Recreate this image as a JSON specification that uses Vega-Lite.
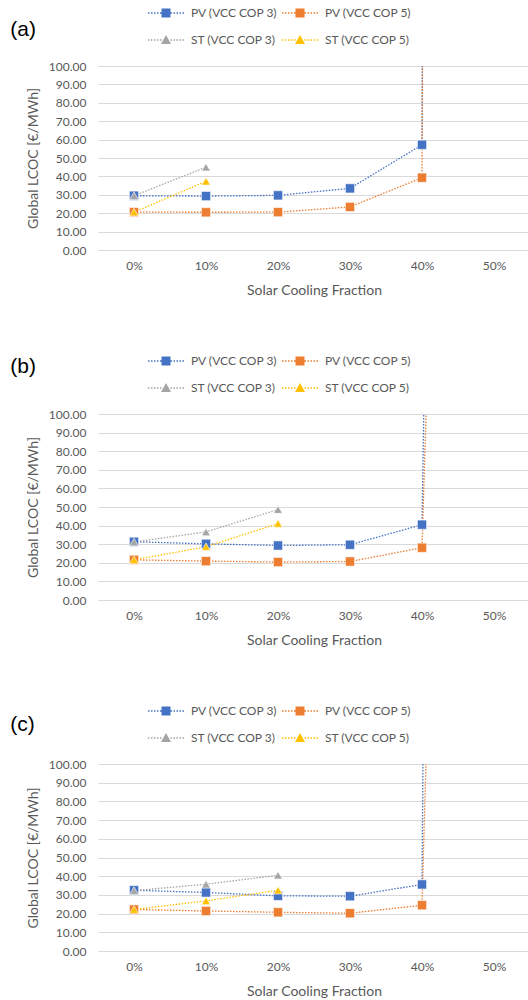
{
  "$schema": "https://vega.github.io/schema/vega-lite/v6.json",
  "padding": {"left": 10, "top": 3, "right": 0, "bottom": 0},
  "background": "white",
  "data": {"values": [
    {"panel": "a", "series": "PV (VCC COP 3)", "frac": "0%", "lcoc": 29.5},
    {"panel": "a", "series": "PV (VCC COP 3)", "frac": "10%", "lcoc": 29.3},
    {"panel": "a", "series": "PV (VCC COP 3)", "frac": "20%", "lcoc": 29.7},
    {"panel": "a", "series": "PV (VCC COP 3)", "frac": "30%", "lcoc": 33.5},
    {"panel": "a", "series": "PV (VCC COP 3)", "frac": "40%", "lcoc": 57.2},
    {"panel": "a", "series": "PV (VCC COP 3)", "frac": "50%", "lcoc": 10000},
    {"panel": "a", "series": "PV (VCC COP 5)", "frac": "0%", "lcoc": 20.6},
    {"panel": "a", "series": "PV (VCC COP 5)", "frac": "10%", "lcoc": 20.5},
    {"panel": "a", "series": "PV (VCC COP 5)", "frac": "20%", "lcoc": 20.6},
    {"panel": "a", "series": "PV (VCC COP 5)", "frac": "30%", "lcoc": 23.4},
    {"panel": "a", "series": "PV (VCC COP 5)", "frac": "40%", "lcoc": 39.3},
    {"panel": "a", "series": "PV (VCC COP 5)", "frac": "50%", "lcoc": 10000},
    {"panel": "a", "series": "ST (VCC COP 3)", "frac": "0%", "lcoc": 29.5},
    {"panel": "a", "series": "ST (VCC COP 3)", "frac": "10%", "lcoc": 45.0},
    {"panel": "a", "series": "ST (VCC COP 5)", "frac": "0%", "lcoc": 20.6},
    {"panel": "a", "series": "ST (VCC COP 5)", "frac": "10%", "lcoc": 37.3},

    {"panel": "b", "series": "PV (VCC COP 3)", "frac": "0%", "lcoc": 31.3},
    {"panel": "b", "series": "PV (VCC COP 3)", "frac": "10%", "lcoc": 30.2},
    {"panel": "b", "series": "PV (VCC COP 3)", "frac": "20%", "lcoc": 29.3},
    {"panel": "b", "series": "PV (VCC COP 3)", "frac": "30%", "lcoc": 29.7},
    {"panel": "b", "series": "PV (VCC COP 3)", "frac": "40%", "lcoc": 40.5},
    {"panel": "b", "series": "PV (VCC COP 3)", "frac": "50%", "lcoc": 2500},
    {"panel": "b", "series": "PV (VCC COP 5)", "frac": "0%", "lcoc": 21.6},
    {"panel": "b", "series": "PV (VCC COP 5)", "frac": "10%", "lcoc": 20.9},
    {"panel": "b", "series": "PV (VCC COP 5)", "frac": "20%", "lcoc": 20.4},
    {"panel": "b", "series": "PV (VCC COP 5)", "frac": "30%", "lcoc": 20.7},
    {"panel": "b", "series": "PV (VCC COP 5)", "frac": "40%", "lcoc": 28.1},
    {"panel": "b", "series": "PV (VCC COP 5)", "frac": "50%", "lcoc": 1300},
    {"panel": "b", "series": "ST (VCC COP 3)", "frac": "0%", "lcoc": 31.2},
    {"panel": "b", "series": "ST (VCC COP 3)", "frac": "10%", "lcoc": 36.6},
    {"panel": "b", "series": "ST (VCC COP 3)", "frac": "20%", "lcoc": 48.6},
    {"panel": "b", "series": "ST (VCC COP 5)", "frac": "0%", "lcoc": 21.6},
    {"panel": "b", "series": "ST (VCC COP 5)", "frac": "10%", "lcoc": 28.6},
    {"panel": "b", "series": "ST (VCC COP 5)", "frac": "20%", "lcoc": 41.1},

    {"panel": "c", "series": "PV (VCC COP 3)", "frac": "0%", "lcoc": 32.5},
    {"panel": "c", "series": "PV (VCC COP 3)", "frac": "10%", "lcoc": 31.3},
    {"panel": "c", "series": "PV (VCC COP 3)", "frac": "20%", "lcoc": 29.5},
    {"panel": "c", "series": "PV (VCC COP 3)", "frac": "30%", "lcoc": 29.3},
    {"panel": "c", "series": "PV (VCC COP 3)", "frac": "40%", "lcoc": 35.6},
    {"panel": "c", "series": "PV (VCC COP 3)", "frac": "50%", "lcoc": 5000},
    {"panel": "c", "series": "PV (VCC COP 5)", "frac": "0%", "lcoc": 22.2},
    {"panel": "c", "series": "PV (VCC COP 5)", "frac": "10%", "lcoc": 21.4},
    {"panel": "c", "series": "PV (VCC COP 5)", "frac": "20%", "lcoc": 20.7},
    {"panel": "c", "series": "PV (VCC COP 5)", "frac": "30%", "lcoc": 20.2},
    {"panel": "c", "series": "PV (VCC COP 5)", "frac": "40%", "lcoc": 24.5},
    {"panel": "c", "series": "PV (VCC COP 5)", "frac": "50%", "lcoc": 1400},
    {"panel": "c", "series": "ST (VCC COP 3)", "frac": "0%", "lcoc": 32.3},
    {"panel": "c", "series": "ST (VCC COP 3)", "frac": "10%", "lcoc": 35.7},
    {"panel": "c", "series": "ST (VCC COP 3)", "frac": "20%", "lcoc": 40.5},
    {"panel": "c", "series": "ST (VCC COP 5)", "frac": "0%", "lcoc": 22.2},
    {"panel": "c", "series": "ST (VCC COP 5)", "frac": "10%", "lcoc": 26.8},
    {"panel": "c", "series": "ST (VCC COP 5)", "frac": "20%", "lcoc": 32.5}
  ]},
  "spacing": 54,
  "resolve": {"scale": {"color": "independent"}, "legend": {"color": "independent"}},
  "vconcat": [
    {
      "title": {"text": "(a)", "dy": 41},
      "width": 432, "height": 184,
      "transform": [{"filter": "datum.panel == 'a'"}],
      "encoding": {
        "x": {"field": "frac", "type": "ordinal", "title": "Solar Cooling Fraction", "scale": {"domain": ["0%", "10%", "20%", "30%", "40%", "50%"]}},
        "y": {"field": "lcoc", "type": "quantitative", "title": "Global LCOC [€/MWh]", "scale": {"domain": [0, 100]}, "axis": {"values": [0, 10, 20, 30, 40, 50, 60, 70, 80, 90, 100], "labelOverlap": false, "format": ".2f"}},
        "color": {"field": "series", "type": "nominal", "scale": {"domain": ["PV (VCC COP 3)", "PV (VCC COP 5)", "ST (VCC COP 3)", "ST (VCC COP 5)"], "range": ["#4472C4", "#ED7D31", "#A5A5A5", "#FFC000"]},
          "legend": {"orient": "none", "legendX": 58, "legendY": -63, "columns": 2, "direction": "horizontal", "title": null, "symbolSize": 400, "symbolStrokeWidth": 0, "labelFont": "Lato", "labelFontSize": 12, "labelColor": "#595959", "labelOffset": 15, "columnPadding": 4, "rowPadding": 11,
            "encode": {"symbols": {"update": {
              "shape": {"signal": "indexof(datum.value, 'PV') == 0 ? 'M-1.8,-0.07H-1.65V0.07H-1.8Z M-1.5,-0.07H-1.35V0.07H-1.5Z M-1.2,-0.07H-1.05V0.07H-1.2Z M-0.9,-0.07H-0.75V0.07H-0.9Z M-0.6,-0.07H-0.45V0.07H-0.6Z M0.45,-0.07H0.6V0.07H0.45Z M0.75,-0.07H0.9V0.07H0.75Z M1.05,-0.07H1.2V0.07H1.05Z M1.35,-0.07H1.5V0.07H1.35Z M1.65,-0.07H1.8V0.07H1.65Z M-0.45,-0.45H0.45V0.45H-0.45Z' : 'M-1.8,-0.07H-1.65V0.07H-1.8Z M-1.5,-0.07H-1.35V0.07H-1.5Z M-1.2,-0.07H-1.05V0.07H-1.2Z M-0.9,-0.07H-0.75V0.07H-0.9Z M-0.6,-0.07H-0.45V0.07H-0.6Z M0.45,-0.07H0.6V0.07H0.45Z M0.75,-0.07H0.9V0.07H0.75Z M1.05,-0.07H1.2V0.07H1.05Z M1.35,-0.07H1.5V0.07H1.35Z M1.65,-0.07H1.8V0.07H1.65Z M0,-0.5L0.5,0.4H-0.5Z'"},
              "fill": {"signal": "datum.value == 'PV (VCC COP 3)' ? '#4472C4' : datum.value == 'PV (VCC COP 5)' ? '#ED7D31' : datum.value == 'ST (VCC COP 3)' ? '#A5A5A5' : '#FFC000'"},
              "fillOpacity": {"value": 1}, "opacity": {"value": 1}, "strokeWidth": {"value": 0}}}}}}
      },
      "layer": [
        {"mark": {"type": "line", "clip": true, "strokeDash": [1.5, 1.5], "strokeWidth": 1.3}},
        {"transform": [{"filter": "indexof(datum.series, 'PV') == 0"}], "mark": {"type": "point", "shape": "square", "filled": true, "size": 85, "opacity": 1, "clip": true, "stroke": "white", "strokeOpacity": 0.6, "strokeWidth": 1}},
        {"transform": [{"filter": "indexof(datum.series, 'ST') == 0"}], "mark": {"type": "point", "shape": "triangle-up", "filled": true, "size": 75, "opacity": 1, "clip": true, "stroke": "white", "strokeOpacity": 0.6, "strokeWidth": 1}}
      ]
    },
    {
      "title": {"text": "(b)", "dy": 30},
      "width": 432, "height": 186,
      "transform": [{"filter": "datum.panel == 'b'"}],
      "encoding": {
        "x": {"field": "frac", "type": "ordinal", "title": "Solar Cooling Fraction", "scale": {"domain": ["0%", "10%", "20%", "30%", "40%", "50%"]}},
        "y": {"field": "lcoc", "type": "quantitative", "title": "Global LCOC [€/MWh]", "scale": {"domain": [0, 100]}, "axis": {"values": [0, 10, 20, 30, 40, 50, 60, 70, 80, 90, 100], "labelOverlap": false, "format": ".2f"}},
        "color": {"field": "series", "type": "nominal", "scale": {"domain": ["PV (VCC COP 3)", "PV (VCC COP 5)", "ST (VCC COP 3)", "ST (VCC COP 5)"], "range": ["#4472C4", "#ED7D31", "#A5A5A5", "#FFC000"]},
          "legend": {"orient": "none", "legendX": 58, "legendY": -63, "columns": 2, "direction": "horizontal", "title": null, "symbolSize": 400, "symbolStrokeWidth": 0, "labelFont": "Lato", "labelFontSize": 12, "labelColor": "#595959", "labelOffset": 15, "columnPadding": 4, "rowPadding": 11,
            "encode": {"symbols": {"update": {
              "shape": {"signal": "indexof(datum.value, 'PV') == 0 ? 'M-1.8,-0.07H-1.65V0.07H-1.8Z M-1.5,-0.07H-1.35V0.07H-1.5Z M-1.2,-0.07H-1.05V0.07H-1.2Z M-0.9,-0.07H-0.75V0.07H-0.9Z M-0.6,-0.07H-0.45V0.07H-0.6Z M0.45,-0.07H0.6V0.07H0.45Z M0.75,-0.07H0.9V0.07H0.75Z M1.05,-0.07H1.2V0.07H1.05Z M1.35,-0.07H1.5V0.07H1.35Z M1.65,-0.07H1.8V0.07H1.65Z M-0.45,-0.45H0.45V0.45H-0.45Z' : 'M-1.8,-0.07H-1.65V0.07H-1.8Z M-1.5,-0.07H-1.35V0.07H-1.5Z M-1.2,-0.07H-1.05V0.07H-1.2Z M-0.9,-0.07H-0.75V0.07H-0.9Z M-0.6,-0.07H-0.45V0.07H-0.6Z M0.45,-0.07H0.6V0.07H0.45Z M0.75,-0.07H0.9V0.07H0.75Z M1.05,-0.07H1.2V0.07H1.05Z M1.35,-0.07H1.5V0.07H1.35Z M1.65,-0.07H1.8V0.07H1.65Z M0,-0.5L0.5,0.4H-0.5Z'"},
              "fill": {"signal": "datum.value == 'PV (VCC COP 3)' ? '#4472C4' : datum.value == 'PV (VCC COP 5)' ? '#ED7D31' : datum.value == 'ST (VCC COP 3)' ? '#A5A5A5' : '#FFC000'"},
              "fillOpacity": {"value": 1}, "opacity": {"value": 1}, "strokeWidth": {"value": 0}}}}}}
      },
      "layer": [
        {"mark": {"type": "line", "clip": true, "strokeDash": [1.5, 1.5], "strokeWidth": 1.3}},
        {"transform": [{"filter": "indexof(datum.series, 'PV') == 0"}], "mark": {"type": "point", "shape": "square", "filled": true, "size": 85, "opacity": 1, "clip": true, "stroke": "white", "strokeOpacity": 0.6, "strokeWidth": 1}},
        {"transform": [{"filter": "indexof(datum.series, 'ST') == 0"}], "mark": {"type": "point", "shape": "triangle-up", "filled": true, "size": 75, "opacity": 1, "clip": true, "stroke": "white", "strokeOpacity": 0.6, "strokeWidth": 1}}
      ]
    },
    {
      "title": {"text": "(c)", "dy": 38},
      "width": 432, "height": 187,
      "transform": [{"filter": "datum.panel == 'c'"}],
      "encoding": {
        "x": {"field": "frac", "type": "ordinal", "title": "Solar Cooling Fraction", "scale": {"domain": ["0%", "10%", "20%", "30%", "40%", "50%"]}},
        "y": {"field": "lcoc", "type": "quantitative", "title": "Global LCOC [€/MWh]", "scale": {"domain": [0, 100]}, "axis": {"values": [0, 10, 20, 30, 40, 50, 60, 70, 80, 90, 100], "labelOverlap": false, "format": ".2f"}},
        "color": {"field": "series", "type": "nominal", "scale": {"domain": ["PV (VCC COP 3)", "PV (VCC COP 5)", "ST (VCC COP 3)", "ST (VCC COP 5)"], "range": ["#4472C4", "#ED7D31", "#A5A5A5", "#FFC000"]},
          "legend": {"orient": "none", "legendX": 58, "legendY": -63, "columns": 2, "direction": "horizontal", "title": null, "symbolSize": 400, "symbolStrokeWidth": 0, "labelFont": "Lato", "labelFontSize": 12, "labelColor": "#595959", "labelOffset": 15, "columnPadding": 4, "rowPadding": 11,
            "encode": {"symbols": {"update": {
              "shape": {"signal": "indexof(datum.value, 'PV') == 0 ? 'M-1.8,-0.07H-1.65V0.07H-1.8Z M-1.5,-0.07H-1.35V0.07H-1.5Z M-1.2,-0.07H-1.05V0.07H-1.2Z M-0.9,-0.07H-0.75V0.07H-0.9Z M-0.6,-0.07H-0.45V0.07H-0.6Z M0.45,-0.07H0.6V0.07H0.45Z M0.75,-0.07H0.9V0.07H0.75Z M1.05,-0.07H1.2V0.07H1.05Z M1.35,-0.07H1.5V0.07H1.35Z M1.65,-0.07H1.8V0.07H1.65Z M-0.45,-0.45H0.45V0.45H-0.45Z' : 'M-1.8,-0.07H-1.65V0.07H-1.8Z M-1.5,-0.07H-1.35V0.07H-1.5Z M-1.2,-0.07H-1.05V0.07H-1.2Z M-0.9,-0.07H-0.75V0.07H-0.9Z M-0.6,-0.07H-0.45V0.07H-0.6Z M0.45,-0.07H0.6V0.07H0.45Z M0.75,-0.07H0.9V0.07H0.75Z M1.05,-0.07H1.2V0.07H1.05Z M1.35,-0.07H1.5V0.07H1.35Z M1.65,-0.07H1.8V0.07H1.65Z M0,-0.5L0.5,0.4H-0.5Z'"},
              "fill": {"signal": "datum.value == 'PV (VCC COP 3)' ? '#4472C4' : datum.value == 'PV (VCC COP 5)' ? '#ED7D31' : datum.value == 'ST (VCC COP 3)' ? '#A5A5A5' : '#FFC000'"},
              "fillOpacity": {"value": 1}, "opacity": {"value": 1}, "strokeWidth": {"value": 0}}}}}}
      },
      "layer": [
        {"mark": {"type": "line", "clip": true, "strokeDash": [1.5, 1.5], "strokeWidth": 1.3}},
        {"transform": [{"filter": "indexof(datum.series, 'PV') == 0"}], "mark": {"type": "point", "shape": "square", "filled": true, "size": 85, "opacity": 1, "clip": true, "stroke": "white", "strokeOpacity": 0.6, "strokeWidth": 1}},
        {"transform": [{"filter": "indexof(datum.series, 'ST') == 0"}], "mark": {"type": "point", "shape": "triangle-up", "filled": true, "size": 75, "opacity": 1, "clip": true, "stroke": "white", "strokeOpacity": 0.6, "strokeWidth": 1}}
      ]
    }
  ],
  "config": {
    "font": "Lato",
    "view": {"stroke": null},
    "title": {"anchor": "start", "frame": "bounds", "orient": "top", "font": "Liberation Sans", "fontSize": 21, "fontWeight": "normal", "color": "#000000", "offset": 0, "dx": -16},
    "axisX": {"domain": false, "ticks": false, "tickSize": 0, "grid": false, "labelAngle": 0, "labelPadding": 10, "labelColor": "#595959", "labelFontSize": 12, "titleColor": "#595959", "titleFontSize": 14, "titleFontWeight": "normal", "titlePadding": 12},
    "axisY": {"domain": false, "ticks": false, "tickSize": 0, "grid": true, "gridColor": "#D9D9D9", "gridWidth": 1, "labelPadding": 12, "labelColor": "#595959", "labelFontSize": 12, "titleColor": "#595959", "titleFontSize": 14, "titleFontWeight": "normal", "titlePadding": 8}
  }
}
